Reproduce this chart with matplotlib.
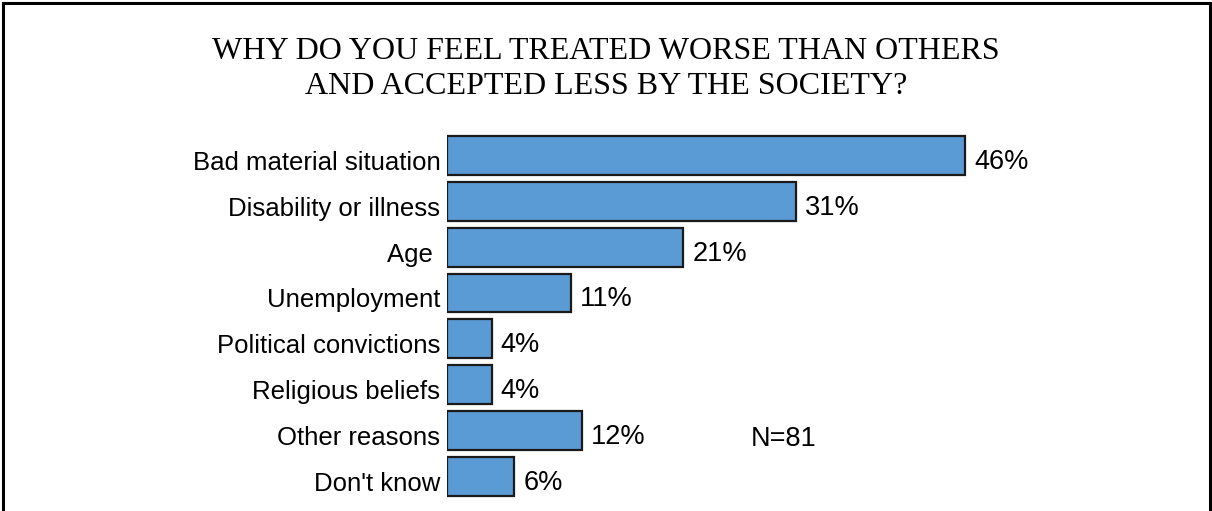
import matplotlib
matplotlib.use("Agg")
from matplotlib import pyplot as plt
from matplotlib.lines import Line2D

# Data
categories = ["Bad material situation", "Disability or illness", "Age ",
              "Unemployment", "Political convictions", "Religious beliefs",
              "Other reasons", "Don't know"]
values = [46, 31, 21, 11, 4, 4, 12, 6]
title_lines = ["WHY DO YOU FEEL TREATED WORSE THAN OTHERS",
               "AND ACCEPTED LESS BY THE SOCIETY?"]
note = "N=81"

bar_color = "#5B9BD5"

fig = plt.figure(figsize=(12.12, 5.11), dpi=100)
fig.patch.set_facecolor("white")

# Axes placed so that bars line up with the reference
ax = fig.add_axes([446.7 / 1212, 11.8 / 511, 676 / 1212, 366.6 / 511])
ypos = list(range(len(categories)))
ax.barh(ypos, values, height=0.85, color=bar_color, edgecolor="#1a1a1a", linewidth=1.6)
ax.set_xlim(0, 60)
ax.set_ylim(len(categories) - 0.5, -0.5)
ax.set_xticks([])
ax.set_yticks([])
for s in ax.spines.values():
    s.set_visible(False)

# Category labels (left of bars)
for y, c in zip(ypos, categories):
    ax.annotate(c, xy=(0, y), xytext=(-4.5, -3.5), textcoords="offset points",
                ha="right", va="center_baseline", fontsize=18.5, family="Liberation Sans")

# Value labels
for y, v in zip(ypos, values):
    ax.annotate(f"{v}%", xy=(v, y), xytext=(6.5, -2.5), textcoords="offset points",
                ha="left", va="center_baseline", fontsize=19.5, family="Liberation Sans")

ax.text(27, 6.18, note, ha="left", va="center", fontsize=19.5, family="Liberation Sans")

# Title
fig.text(0.5, 1 - 59.3 / 511, title_lines[0], ha="center", va="baseline",
         fontsize=23, family="Liberation Serif")
fig.text(0.5, 1 - 94 / 511, title_lines[1], ha="center", va="baseline",
         fontsize=23, family="Liberation Serif")

# Frame (left, top, right)
lw = 2.2
fig.add_artist(Line2D([3 / 1212, 3 / 1212], [0, 1 - 3 / 511], color="black", lw=lw))
fig.add_artist(Line2D([3 / 1212, 1 - 2 / 1212], [1 - 3 / 511, 1 - 3 / 511], color="black", lw=lw))
fig.add_artist(Line2D([1 - 2 / 1212, 1 - 2 / 1212], [0, 1 - 3 / 511], color="black", lw=lw))

fig.savefig("out.png", dpi=100)
